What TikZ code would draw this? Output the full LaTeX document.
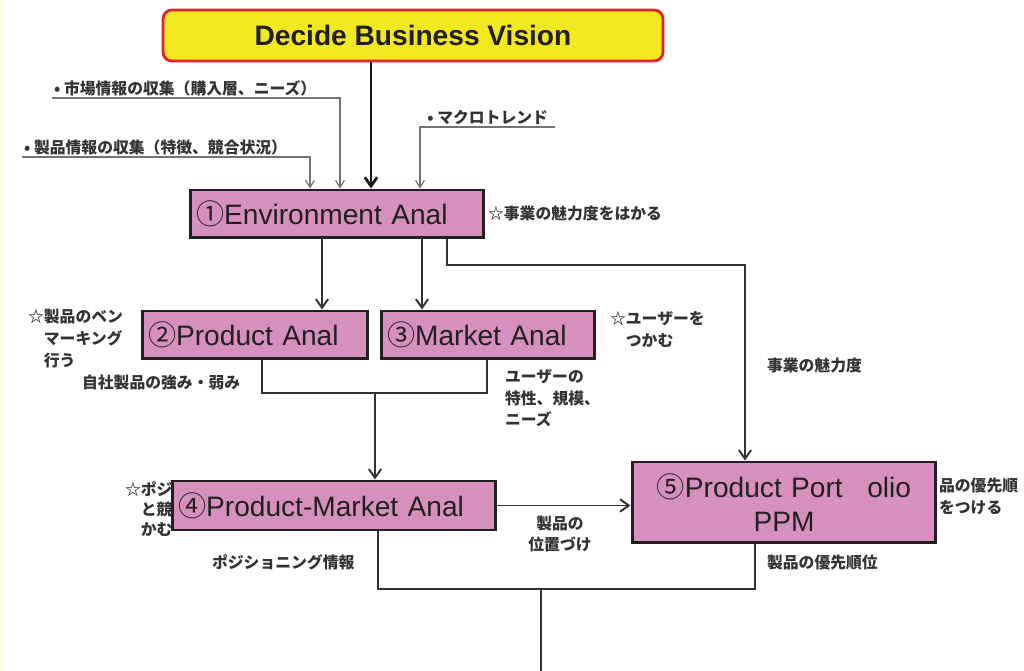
\documentclass[tikz,border=0pt]{standalone}
\usepackage{fontspec}
\setmainfont{Liberation Sans}
\newfontfamily\jp{Noto Sans CJK JP}
\usetikzlibrary{arrows.meta}
\definecolor{boxpink}{RGB}{214,144,190}
\definecolor{visionyellow}{RGB}{241,232,32}
\definecolor{visionred}{RGB}{226,35,40}
\definecolor{ink}{RGB}{35,31,32}
\newcommand{\memo}{\jp\bfseries\fontsize{9}{12.5}\selectfont}

\begin{document}
\begin{tikzpicture} [x = 0.02cm, y = -0.02cm,
  anal/.style = {draw = ink, line width = 1.7pt, fill = boxpink, text = ink, font = \fontsize{16}{19}\selectfont, inner xsep = 0.12cm, inner ysep = 0pt, align = left},
  jtext/.style = {text = black!80, font = \memo, inner sep = 1pt, align = left},
  flow/.style = {draw = black!80, line width = 1.1pt, -{Straight Barb[length = 5pt, width = 7pt]}},
  link/.style = {draw = black!80, line width = 1.1pt},
  feed/.style = {draw = black!55, line width = 0.7pt, -{Straight Barb[length = 4pt, width = 5pt]}}]
\useasboundingbox (0,0) rectangle (1024,671);
\fill[yellow!8] (0,0) rectangle (3,671);

\node[jtext, anchor = south west] (mktinfo) at (52,98) {• 市場情報の収集（購入層、ニーズ）};
\node[jtext, anchor = south west] (prodinfo) at (22,157) {• 製品情報の収集（特徴、競合状況）};
\node[jtext, anchor = south west, inner xsep = 4pt] (trend) at (420,127) {• マクロトレンド};
\node[jtext, anchor = west] (attract) at (486,213) {☆事業の魅力度をはかる};
\node[jtext, anchor = north west] (bench) at (26,307) {☆製品のベン\\\hspace{1em}マーキング\\\hspace{1em}行う};
\node[jtext, anchor = west] (strength) at (80,383) {自社製品の強み・弱み};
\node[jtext, anchor = north west] (user) at (503,367) {ユーザーの\\特性、規模、\\ニーズ};
\node[jtext, anchor = north west] (grab) at (608,309) {☆ユーザーを\\\hspace{1em}つかむ};
\node[jtext, anchor = west] (attract2) at (765,365) {事業の魅力度};
\node[jtext, anchor = north west, font = \jp\bfseries\fontsize{9}{11.3}\selectfont] (posi) at (123,480) {☆ポジ\\\hspace{1em}と競\\\hspace{1em}かむ};
\node[jtext, anchor = west] (posinfo) at (210,562) {ポジショニング情報};
\node[jtext, align = center] (place) at (560,534) {製品の\\位置づけ};
\node[jtext, anchor = north west] (prio) at (937,476) {品の優先順\\をつける};
\node[jtext, anchor = west] (prio2) at (765,563) {製品の優先順位};

\node[draw = visionred, line width = 1.6pt, fill = visionyellow, rounded corners = 5pt, minimum width = 10cm, minimum height = 1.02cm, font = \bfseries\fontsize{16}{19}\selectfont, text = ink] (vision) at (413,35.5) {Decide Business Vision};
\node[anal, text width = 5.64cm, minimum height = 0.96cm] (env) at (337,214) {{\jp ①}Environment Anal};
\node[anal, text width = 4.28cm, minimum height = 0.96cm] (prod) at (255,335) {{\jp ②}Product Anal};
\node[anal, text width = 4.04cm, minimum height = 0.96cm] (market) at (488,335) {{\jp ③}Market Anal};
\node[anal, text width = 6.24cm, minimum height = 0.98cm] (pm) at (334,505.5) {{\jp ④}Product-Market Anal};
\node[anal, text width = 5.84cm, minimum height = 1.62cm, align = center] (ppm) at (784,502.5) {{\jp ⑤}Product Port\hspace{14pt}olio\\PPM};

\coordinate (attr) at (745,265);
\coordinate (pmjoin) at (375,393);
\coordinate (outjoin) at (541,589);
\coordinate (out) at (541,671);

\draw[flow, line width = 1.6pt, draw = black!90] (vision.south -| 371,0) -- (env.north -| 371,0);
\draw[feed] (mktinfo.south west) -| (env.north -| 340,0);
\draw[feed] (prodinfo.south west) -| (env.north -| 310,0);
\draw[feed] (trend.south east) -- (trend.south west) -- (env.north -| trend.south west);
\draw[flow] (env.south -| 322,0) -- (prod.north -| 322,0);
\draw[flow] (env.south -| 422,0) -- (market.north -| 422,0);
\draw[flow] (env.south -| 447,0) |- (attr) -- (ppm.north -| attr);
\draw[link] (prod.south -| 262,0) |- (pmjoin) -| (market.south -| 487,0);
\draw[flow] (pmjoin) -- (pm.north -| pmjoin);
\draw[flow] (pm.east) -- (ppm.west |- pm.east);
\draw[link] (pm.south -| 378,0) |- (outjoin) -| (ppm.south -| 755,0);
\draw[link] (outjoin) -- (out);
\end{tikzpicture}
\end{document}
